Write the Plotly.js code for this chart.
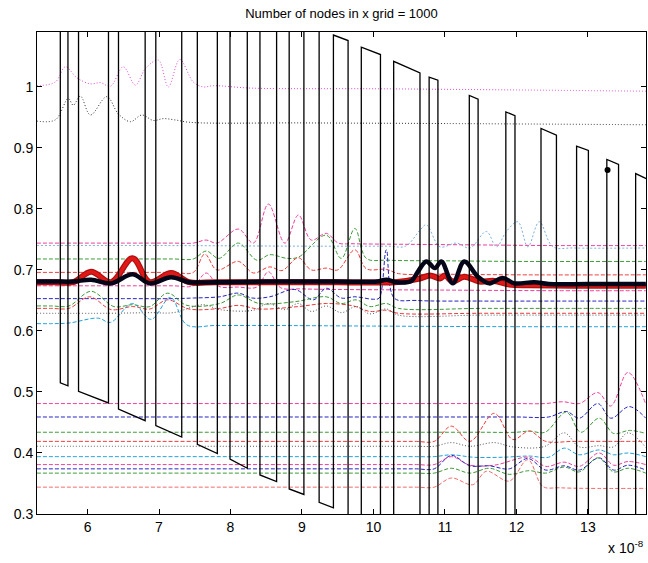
<!DOCTYPE html>
<html>
<head>
<meta charset="utf-8">
<script src="https://cdn.plot.ly/plotly-3.0.1.min.js"></script>
<style>html,body{margin:0;padding:0;background:#fff;}#chart{width:648px;height:563px;}</style>
</head>
<body>
<div id="chart"></div>
<script>
// ---- data (x in units of 1e-8) ----
const titleText = "Number of nodes in x grid = 1000";
const xTickVals = [6, 7, 8, 9, 10, 11, 12, 13];
const yTickVals = [0.3, 0.4, 0.5, 0.6, 0.7, 0.8, 0.9, 1.0];
const yTickText = ["0.3", "0.4", "0.5", "0.6", "0.7", "0.8", "0.9", "1"];

// sawtooth polyline
const sawX = [5.619,5.619,5.726,5.726, 5.874,5.874,6.293,6.293, 6.433,6.433,6.806,6.806,
  6.955,6.955,7.318,7.318, 7.536,7.536,7.816,7.816, 7.993,7.993,8.235,8.235,
  8.412,8.412,8.645,8.645, 8.821,8.821,9.027,9.027, 9.240,9.240,9.44,9.44,
  9.645,9.645,9.830,9.830, 10.098,10.098,10.283,10.283, 10.651,10.651,10.779,10.779,
  10.902,10.902,11.341,11.341, 11.464,11.464,11.852,11.852, 11.980,11.980,12.344,12.344,
  12.560,12.560,12.842,12.842, 13.007,13.007,13.265,13.265, 13.429,13.429,13.668,13.668, 13.85];
const sawY = [1.2,0.515,0.510,1.2, 1.2,0.501,0.482,1.2, 1.2,0.472,0.453,1.2,
  1.2,0.445,0.426,1.2, 1.2,0.414,0.399,1.2, 1.2,0.390,0.375,1.2,
  1.2,0.364,0.353,1.2, 1.2,0.341,0.332,1.2, 1.2,0.319,0.310,1.085,
  1.076,0.25,0.25,1.065, 1.053,0.25,0.25,1.042, 1.023,0.25,0.25,1.016,
  1.011,0.25,0.25,0.986, 0.980,0.25,0.25,0.959, 0.953,0.25,0.25,0.932,
  0.921,0.25,0.25,0.903, 0.896,0.25,0.25,0.881, 0.873,0.25,0.25,0.858, 0.848];

const dotX = [13.275];
const dotY = [0.864];

// top dotted lines
const pinkTopX = [5.29,5.55,5.69,5.85,6.04,6.18,6.32,6.50,6.67,6.81,6.99,7.13,7.29,7.48,7.62,7.76,8.3,10.0,12.0,13.81];
const pinkTopY = [1.002,1.008,1.033,1.015,1.005,1.007,1.001,1.033,1.003,1.030,1.044,1.000,1.045,1.008,1.000,1.002,0.998,0.997,0.995,0.993];
const blackTopX = [5.29,5.55,5.73,5.80,5.90,6.04,6.27,6.43,6.60,6.76,6.92,7.06,7.22,7.43,9.0,11.0,13.81];
const blackTopY = [0.944,0.946,0.981,0.970,0.985,0.954,0.984,0.956,0.943,0.954,0.945,0.948,0.946,0.942,0.941,0.940,0.938];

// middle group
const pinkAX = [5.29,6.5,7.2,7.48,7.66,7.81,8.11,8.32,8.53,8.76,8.95,9.13,9.34,9.51,9.7,10.5,11.5,12.5,13.81];
const pinkAY = [0.744,0.744,0.744,0.744,0.749,0.744,0.767,0.744,0.808,0.744,0.790,0.749,0.760,0.744,0.743,0.742,0.741,0.740,0.740];
const ltBlueX = [5.29,7.0,9.0,10.2,10.45,10.65,10.74,10.93,11.16,11.35,11.58,11.72,11.86,12.02,12.16,12.32,12.51,12.8,13.81];
const ltBlueY = [0.740,0.740,0.739,0.739,0.739,0.765,0.774,0.738,0.744,0.736,0.763,0.738,0.763,0.779,0.738,0.779,0.738,0.736,0.736];
const greenAX = [5.29,6.5,7.2,7.48,7.66,7.84,8.11,8.37,8.55,8.79,8.95,9.34,9.55,9.74,9.90,10.2,11.0,12.0,13.81];
const greenAY = [0.718,0.718,0.718,0.718,0.731,0.719,0.744,0.716,0.725,0.719,0.721,0.757,0.719,0.768,0.719,0.716,0.715,0.714,0.714];
const redAX = [5.29,6.5,7.2,7.48,7.64,7.81,8.11,8.32,8.55,8.72,8.95,9.13,9.34,9.50,9.74,9.90,10.18,10.35,11.0,12.0,13.81];
const redAY = [0.696,0.696,0.696,0.696,0.726,0.700,0.714,0.695,0.705,0.699,0.720,0.700,0.703,0.700,0.733,0.702,0.701,0.694,0.693,0.692,0.692];
const thickRedX = [5.29,5.55,5.80,6.05,6.33,6.63,6.87,7.17,7.42,7.8,8.5,9.5,10.3,10.65,10.79,10.93,11.00,11.11,11.27,11.48,11.69,11.9,12.2,12.8,13.81];
const thickRedY = [0.680,0.680,0.680,0.697,0.680,0.719,0.680,0.695,0.680,0.680,0.680,0.680,0.680,0.686,0.691,0.686,0.691,0.681,0.689,0.681,0.682,0.676,0.675,0.674,0.674];
const thickBlackX = [5.29,5.55,5.80,6.05,6.33,6.63,6.87,7.17,7.42,7.8,8.5,9.5,10.05,10.18,10.32,10.53,10.62,10.74,10.86,10.95,11.11,11.27,11.46,11.62,11.81,11.97,12.25,12.45,13.0,13.81];
const thickBlackY = [0.681,0.681,0.681,0.684,0.678,0.693,0.678,0.688,0.680,0.680,0.681,0.681,0.681,0.684,0.680,0.682,0.697,0.714,0.703,0.714,0.678,0.714,0.689,0.678,0.687,0.678,0.680,0.677,0.677,0.677];
const pinkBX = [5.29,6.5,7.2,7.48,7.66,7.84,8.1,8.37,8.53,8.70,9.0,9.5,11.0,12.5,13.81];
const pinkBY = [0.674,0.674,0.674,0.674,0.695,0.673,0.672,0.672,0.697,0.671,0.669,0.668,0.667,0.666,0.666];
const blueAX = [5.29,6.5,7.2,7.48,7.85,8.11,8.30,8.55,8.90,9.16,9.34,9.55,9.74,10.0,10.08,10.18,10.29,10.6,11.5,12.5,13.81];
const blueAY = [0.653,0.653,0.653,0.654,0.656,0.662,0.654,0.656,0.668,0.651,0.670,0.654,0.656,0.652,0.654,0.733,0.654,0.650,0.649,0.649,0.649];
const greenBX = [5.29,5.5,5.74,6.05,6.37,6.63,6.87,7.12,7.39,7.85,8.11,8.40,8.9,9.34,9.55,9.76,9.95,10.18,10.35,11.5,12.5,13.81];
const greenBY = [0.641,0.641,0.641,0.665,0.640,0.643,0.640,0.662,0.642,0.645,0.659,0.645,0.648,0.656,0.645,0.651,0.640,0.645,0.637,0.637,0.637,0.637];
const redBX = [5.29,5.5,5.74,6.03,6.33,6.63,6.87,7.12,7.42,7.85,8.11,8.4,8.95,9.34,9.72,9.95,10.18,10.35,11.5,12.5,13.81];
const redBY = [0.637,0.637,0.637,0.656,0.635,0.640,0.636,0.651,0.636,0.637,0.642,0.636,0.640,0.645,0.641,0.632,0.634,0.629,0.629,0.629,0.629];
const grayBX = [5.29,6.3,6.9,7.2,7.62,7.85,8.32,8.53,8.76,8.95,9.13,9.34,9.55,9.76,9.95,10.18,10.35,11.5,12.5,13.81];
const grayBY = [0.629,0.629,0.630,0.630,0.643,0.635,0.634,0.645,0.635,0.645,0.632,0.641,0.630,0.640,0.628,0.636,0.626,0.626,0.626,0.626];
const cyanBX = [5.29,5.5,5.74,6.15,6.32,6.63,6.89,7.16,7.39,7.8,8.5,10.0,12.0,13.81];
const cyanBY = [0.612,0.612,0.613,0.621,0.614,0.645,0.619,0.655,0.610,0.609,0.609,0.608,0.607,0.607];

// lower group
const pinkCX = [5.29,7.0,9.0,11.0,12.0,12.4,12.65,12.88,13.14,13.32,13.56,13.81];
const pinkCY = [0.481,0.481,0.481,0.481,0.481,0.481,0.484,0.481,0.499,0.477,0.532,0.480];
const blueCX = [5.29,7.0,9.0,11.0,12.0,12.45,12.70,12.88,13.14,13.32,13.58,13.81];
const blueCY = [0.459,0.459,0.459,0.459,0.459,0.459,0.468,0.457,0.481,0.457,0.476,0.457];
const greenCX = [5.29,7.0,9.0,10.5,11.5,12.0,12.18,12.4,12.70,12.90,13.16,13.36,13.58,13.81];
const greenCY = [0.434,0.434,0.434,0.434,0.434,0.434,0.436,0.434,0.467,0.434,0.457,0.432,0.437,0.432];
const redCX = [5.29,7.0,9.0,10.3,10.6,10.85,11.09,11.35,11.69,11.95,12.18,12.41,12.8,13.81];
const redCY = [0.419,0.419,0.419,0.419,0.419,0.419,0.444,0.419,0.465,0.422,0.436,0.419,0.419,0.419];
const grayCX = [5.29,7.0,9.0,10.3,10.6,10.85,11.09,11.35,11.69,11.95,12.4,12.67,12.88,13.16,13.36,13.56,13.81];
const grayCY = [0.411,0.411,0.411,0.411,0.411,0.411,0.417,0.411,0.417,0.410,0.411,0.433,0.410,0.412,0.410,0.433,0.409];
const cyanCX = [5.29,7.0,9.0,10.3,10.6,10.85,11.09,11.4,11.8,12.18,12.45,12.67,12.88,13.16,13.36,13.56,13.81];
const cyanCY = [0.394,0.394,0.394,0.394,0.394,0.394,0.397,0.393,0.393,0.395,0.393,0.408,0.397,0.405,0.397,0.400,0.394];
const pinkDX = [5.29,7.0,9.0,10.3,10.6,10.85,11.09,11.35,11.69,12.18,12.41,12.67,12.88,13.16,13.36,13.56,13.81];
const pinkDY = [0.381,0.381,0.381,0.381,0.381,0.381,0.394,0.380,0.380,0.393,0.378,0.385,0.378,0.400,0.380,0.386,0.381];
const blueDX = [5.29,7.0,9.0,10.3,10.6,10.85,11.09,11.35,11.62,11.9,12.16,12.41,12.67,12.88,13.16,13.36,13.56,13.81];
const blueDY = [0.374,0.374,0.374,0.374,0.374,0.374,0.396,0.379,0.379,0.374,0.391,0.372,0.379,0.372,0.392,0.372,0.380,0.372];
const greenDX = [5.29,7.0,9.0,10.3,10.6,10.85,11.09,11.35,11.62,11.9,12.18,12.41,12.67,12.88,13.14,13.36,13.56,13.81];
const greenDY = [0.367,0.367,0.367,0.367,0.367,0.367,0.375,0.367,0.375,0.365,0.371,0.367,0.377,0.369,0.392,0.369,0.375,0.367];
const salmonDX = [5.29,7.0,9.0,10.3,10.6,10.85,11.09,11.39,11.58,11.9,12.16,12.37,12.6,13.0,13.81];
const salmonDY = [0.344,0.344,0.344,0.344,0.344,0.344,0.359,0.348,0.370,0.354,0.389,0.345,0.343,0.342,0.342];

// ---- traces ----
function thin(x, y, color, dash) {
  return {x: x, y: y, type: 'scatter', mode: 'lines', hoverinfo: 'skip',
    line: {color: color, width: 1, dash: dash || '4px,2px', shape: 'spline', smoothing: 1}};
}
const C = {pink:'#ee3d9c', ltblue:'#7aaede', green:'#3c9a36', red:'#f2383a', blue:'#2424c4', gray:'#555555', cyan:'#22a2dc', salmon:'#f26a6a', magenta:'#e04ad0'};

const traces = [
  thin(pinkTopX, pinkTopY, C.magenta, '1px,2px'),
  thin(blackTopX, blackTopY, '#333333', '1px,2px'),
  thin(pinkAX, pinkAY, C.pink),
  thin(ltBlueX, ltBlueY, C.ltblue, '2px,2px'),
  thin(greenAX, greenAY, C.green),
  thin(redAX, redAY, C.red),
  thin(pinkBX, pinkBY, C.pink),
  thin(blueAX, blueAY, C.blue),
  thin(greenBX, greenBY, C.green),
  thin(redBX, redBY, C.red),
  thin(grayBX, grayBY, C.gray, '1px,2px'),
  thin(cyanBX, cyanBY, C.cyan),
  thin(pinkCX, pinkCY, C.pink),
  thin(blueCX, blueCY, C.blue),
  thin(greenCX, greenCY, C.green),
  thin(redCX, redCY, C.red),
  thin(grayCX, grayCY, C.gray, '1px,2px'),
  thin(cyanCX, cyanCY, C.cyan),
  thin(pinkDX, pinkDY, C.pink),
  thin(blueDX, blueDY, C.blue),
  thin(greenDX, greenDY, C.green),
  thin(salmonDX, salmonDY, C.salmon),
  {x: thickRedX, y: thickRedY, type: 'scatter', mode: 'lines', hoverinfo: 'skip',
   line: {color: '#b01010', width: 6, shape: 'spline', smoothing: 1}},
  {x: thickRedX, y: thickRedY, type: 'scatter', mode: 'lines', hoverinfo: 'skip',
   line: {color: '#e01818', width: 3.5, shape: 'spline', smoothing: 1}},
  {x: thickBlackX, y: thickBlackY, type: 'scatter', mode: 'lines', hoverinfo: 'skip',
   line: {color: '#05051a', width: 4.5, shape: 'spline', smoothing: 1}},
  {x: sawX, y: sawY, type: 'scatter', mode: 'lines', hoverinfo: 'skip',
   line: {color: '#000000', width: 1.3, shape: 'linear'}},
  {x: dotX, y: dotY, type: 'scatter', mode: 'markers', hoverinfo: 'skip',
   marker: {color: '#000000', size: 6}}
];

const tickFont = {family: 'Liberation Sans, Arial, Helvetica, sans-serif', size: 14, color: '#000'};
const layout = {
  width: 648, height: 563,
  margin: {l: 37, r: 2, t: 32, b: 49},
  paper_bgcolor: '#ffffff', plot_bgcolor: '#ffffff',
  showlegend: false,
  title: {text: titleText, font: {family: 'Liberation Sans, Arial, sans-serif', size: 13, color: '#000'},
          x: 0.527, xanchor: 'center', y: 1 - 13/563, yanchor: 'middle', yref: 'container'},
  xaxis: {range: [5.293, 13.813], tickvals: xTickVals, ticks: 'inside', ticklen: 5, tickwidth: 1,
          tickcolor: '#000', showline: true, linecolor: '#000', linewidth: 1, mirror: 'ticks',
          showgrid: false, zeroline: false, tickfont: tickFont},
  yaxis: {range: [0.3, 1.09], tickvals: yTickVals, ticktext: yTickText, ticks: 'inside', ticklen: 5,
          tickwidth: 1, tickcolor: '#000', showline: true, linecolor: '#000', linewidth: 1, mirror: 'ticks',
          showgrid: false, zeroline: false, tickfont: tickFont},
  annotations: [{text: 'x 10<sup>-8</sup>', xref: 'paper', yref: 'paper', x: 1.0, y: -0.068,
                 xanchor: 'right', yanchor: 'middle', showarrow: false, font: tickFont}]
};
Plotly.newPlot('chart', traces, layout, {staticPlot: true, displayModeBar: false});
</script>
</body>
</html>
